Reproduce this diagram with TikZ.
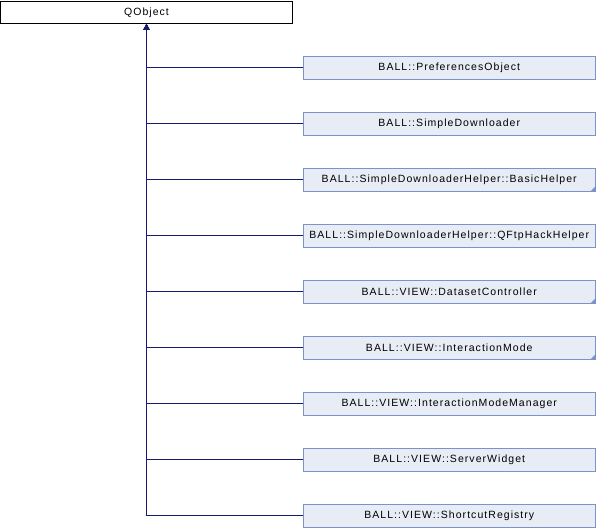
\documentclass[tikz,border=0pt]{standalone}
\usepackage{fontspec}
\setmainfont{Liberation Sans}[LetterSpace=10]
\usetikzlibrary{arrows.meta}
\definecolor{edgeblue}{HTML}{191970}
\definecolor{boxborder}{HTML}{7B93C7}
\definecolor{boxfill}{HTML}{E8ECF5}
\tikzset{
  base/.style={draw=black, fill=white, line width=0.8pt, minimum width=292pt, minimum height=22pt, inner sep=0pt, font=\fontsize{10.5}{12}\selectfont},
  child/.style={draw=boxborder, fill=boxfill, line width=0.8pt, minimum width=291.5pt, minimum height=23pt, inner sep=0pt, font=\fontsize{10.5}{12}\selectfont},
  inh/.style={draw=edgeblue, line width=0.8pt, -{Triangle[length=6pt,width=6pt]}},
  more/.style={fill=boxborder, draw=none}
}
\begin{document}
\begin{tikzpicture}[x=1pt,y=-1pt]
\useasboundingbox (0,0) rectangle (596,528);
\node[base] (q) at (146.5,12.5) {QObject};
\foreach \n/\t [count=\k from 0] in {
  a/BALL::PreferencesObject,
  b/BALL::SimpleDownloader,
  c/BALL::SimpleDownloaderHelper::BasicHelper,
  d/BALL::SimpleDownloaderHelper::QFtpHackHelper,
  e/BALL::VIEW::DatasetController,
  f/BALL::VIEW::InteractionMode,
  g/BALL::VIEW::InteractionModeManager,
  h/BALL::VIEW::ServerWidget,
  i/BALL::VIEW::ShortcutRegistry}
{
  \node[child] (\n) at (449.25,{67.5+56*\k}) {\t};
  \draw[inh] (\n.west) -| (q.south);
}
\foreach \n in {c,e,f}{
  \fill[more] (\n.south east) -- ++(-5,0) -- ++(5,-5) -- cycle;
}
\end{tikzpicture}
\end{document}
